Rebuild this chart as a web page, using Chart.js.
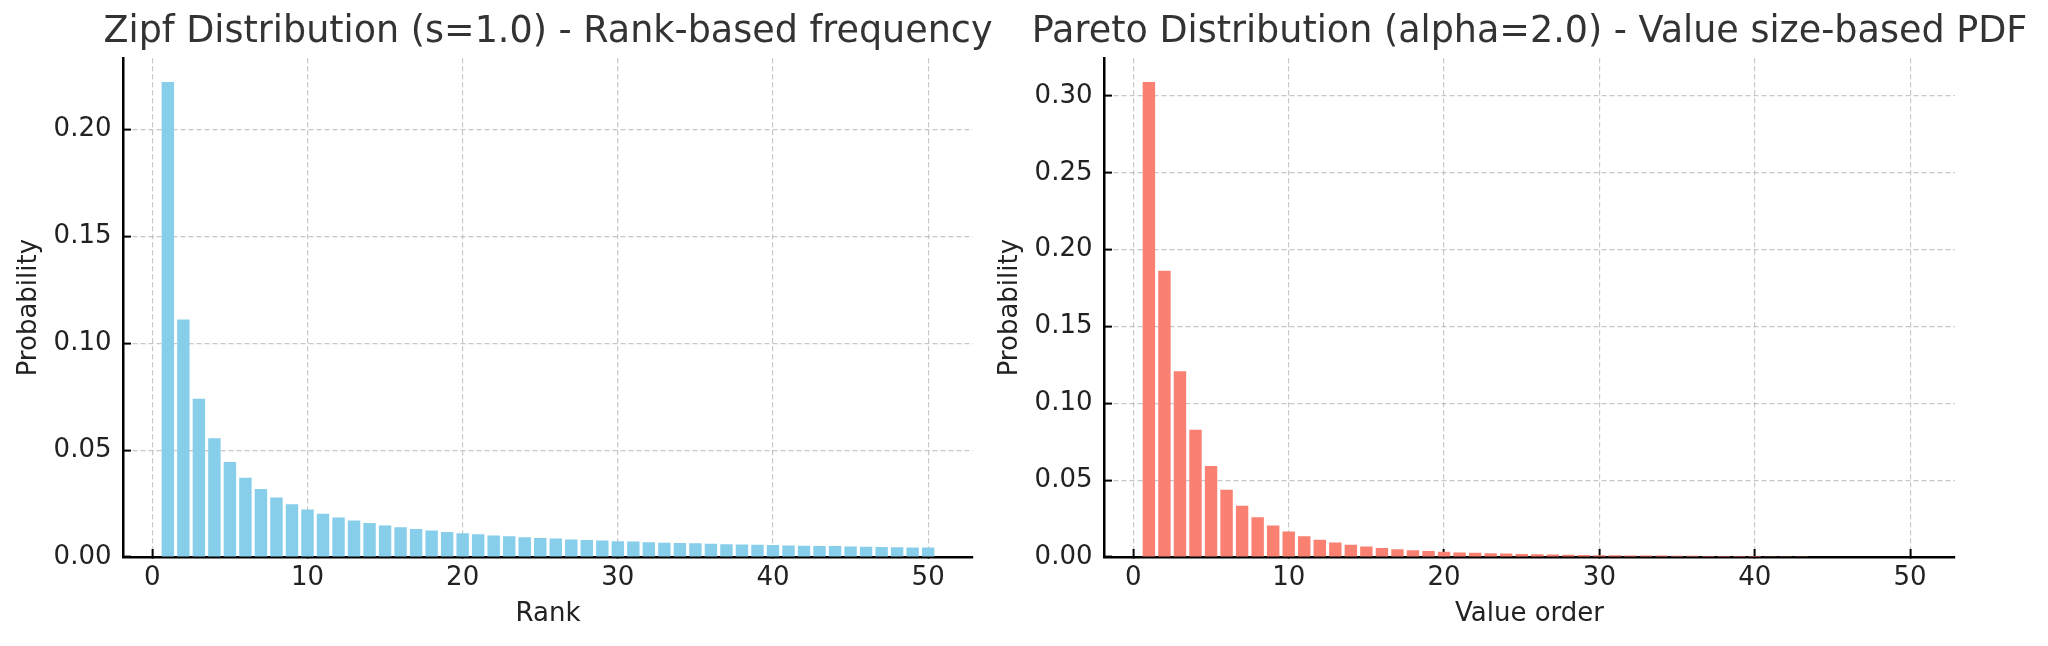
<!DOCTYPE html>
<html>
<head>
<meta charset="utf-8">
<script src="https://cdn.jsdelivr.net/npm/chart.js@4"></script>
<style>
  html, body { margin: 0; padding: 0; background: #fff; overflow: hidden; }
  #wrap { position: relative; width: 2048px; height: 646px; overflow: hidden; }
  canvas { position: absolute; top: 0; }
</style>
</head>
<body>
<div id="wrap">
  <canvas id="zipfChart" width="1096" height="646" style="left:0px;width:1096px;height:646px"></canvas>
  <canvas id="paretoChart" width="1097" height="646" style="left:981px;width:1097px;height:646px"></canvas>
</div>
<script>
// bar positions (rank / value order)
const ranks = [1, 2, 3, 4, 5, 6, 7, 8, 9, 10, 11, 12, 13, 14, 15, 16, 17, 18, 19, 20,
  21, 22, 23, 24, 25, 26, 27, 28, 29, 30, 31, 32, 33, 34, 35, 36, 37, 38, 39, 40,
  41, 42, 43, 44, 45, 46, 47, 48, 49, 50];

// values
const zipfProb = [0.2223, 0.1111, 0.0741, 0.0556, 0.0445, 0.0371, 0.0318, 0.0278, 0.0247, 0.0222,
  0.0202, 0.0185, 0.0171, 0.0159, 0.0148, 0.0139, 0.0131, 0.0124, 0.0117, 0.0111,
  0.0106, 0.0101, 0.0097, 0.0093, 0.0089, 0.0086, 0.0082, 0.0079, 0.0077, 0.0074,
  0.0072, 0.0069, 0.0067, 0.0065, 0.0064, 0.0062, 0.0060, 0.0059, 0.0057, 0.0056,
  0.0054, 0.0053, 0.0052, 0.0051, 0.0049, 0.0048, 0.0047, 0.0046, 0.0045, 0.0044];

const paretoProb = [0.3090, 0.1863, 0.1209, 0.0828, 0.0592, 0.0438, 0.0333, 0.0259, 0.0205, 0.0166,
  0.0135, 0.0112, 0.0094, 0.0080, 0.0068, 0.0058, 0.0051, 0.0044, 0.0039, 0.0034,
  0.0030, 0.0027, 0.0024, 0.0022, 0.0020, 0.0018, 0.0016, 0.0015, 0.0013, 0.0012,
  0.0011, 0.0010, 0.0010, 0.0009, 0.0008, 0.0008, 0.0007, 0.0007, 0.0006, 0.0006,
  0.0005, 0.0005, 0.0005, 0.0004, 0.0004, 0.0004, 0.0004, 0.0004, 0.0003, 0.0003];

// tick labels
const xTickValues = [0, 10, 20, 30, 40, 50];
const zipfYTicks = [0, 0.05, 0.10, 0.15, 0.20];
const paretoYTicks = [0, 0.05, 0.10, 0.15, 0.20, 0.25, 0.30];

Chart.defaults.font.family = "'DejaVu Sans', sans-serif";

const gridColor = 'rgba(176, 176, 176, 0.7)';

function buildChart(id, titleText, xTitle, values, barColor, yMax, yTicks) {
  const points = ranks.map((r, i) => ({ x: r, y: values[i] }));
  return new Chart(document.getElementById(id), {
    type: 'bar',
    data: {
      datasets: [{
        data: points,
        backgroundColor: barColor,
        borderWidth: 0,
        barPercentage: 0.8,
        categoryPercentage: 1.0
      }]
    },
    options: {
      responsive: false,
      animation: false,
      devicePixelRatio: 1,
      layout: { padding: 0 },
      plugins: {
        legend: { display: false },
        tooltip: { enabled: false },
        title: {
          display: true,
          text: titleText,
          color: '#333333',
          font: { size: 36.5, weight: 'normal' },
          padding: { top: 10.5, bottom: 4.0 }
        }
      },
      scales: {
        x: {
          type: 'linear',
          min: -1.89,
          max: 52.89,
          offset: false,
          afterBuildTicks: s => { s.ticks = xTickValues.map(v => ({ value: v })); },
          afterFit: s => { s.height = 89; },
          grid: { offset: false, color: gridColor, lineWidth: 1.2, tickLength: -8, tickColor: '#000', tickWidth: 2 },
          border: { display: true, color: '#000', width: 2.5, dash: [5, 3] },
          ticks: { color: '#222', font: { size: 26 }, padding: 14, maxRotation: 0, callback: v => v },
          title: { display: true, text: xTitle, color: '#222', font: { size: 26 }, padding: { top: 0, bottom: 16.4 } }
        },
        y: {
          type: 'linear',
          position: 'left',
          min: 0,
          max: yMax,
          afterBuildTicks: s => { s.ticks = yTicks.map(v => ({ value: v })); },
          afterFit: s => { s.width = 123; },
          grid: { color: gridColor, lineWidth: 1.2, tickLength: -8, tickColor: '#000', tickWidth: 2 },
          border: { display: true, color: '#000', width: 2.5, dash: [5, 3] },
          ticks: { color: '#222', font: { size: 26 }, padding: 19.5, callback: v => Number(v).toFixed(2) },
          title: { display: true, text: 'Probability', color: '#222', font: { size: 26 }, padding: { top: 13.4, bottom: 0 } }
        },
        // empty spacer on the right so the title centres over the plot
        y2: {
          type: 'linear',
          position: 'right',
          grid: { display: false },
          border: { display: false },
          ticks: { display: false },
          afterFit: s => { s.width = 123; }
        }
      }
    }
  });
}

buildChart('zipfChart', 'Zipf Distribution (s=1.0) - Rank-based frequency', 'Rank',
  zipfProb, '#87CEEB', 0.2334, zipfYTicks);
buildChart('paretoChart', 'Pareto Distribution (alpha=2.0) - Value size-based PDF', 'Value order',
  paretoProb, '#FA8072', 0.3245, paretoYTicks);
</script>
</body>
</html>
